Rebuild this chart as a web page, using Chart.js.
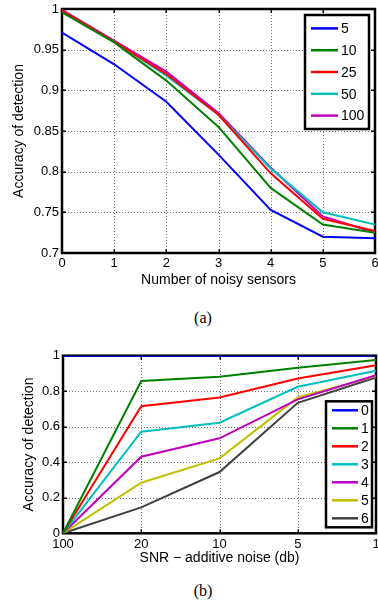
<!DOCTYPE html>
<html>
<head>
<meta charset="utf-8">
<script src="https://cdn.jsdelivr.net/npm/chart.js@4"></script>
<style>
  body { margin: 0; background: #fff; width: 378px; height: 603px; position: relative; overflow: hidden; }
  .box { position: absolute; left: 0; width: 378px; }
  .cap { position: absolute; width: 378px; left: 14px; text-align: center; font-family: "Liberation Serif", serif; font-size: 16px; color: #000; }
</style>
</head>
<body>
<div class="box" style="top:0;height:290px"><canvas id="chartA"></canvas></div>
<div class="cap" style="top:309px">(a)</div>
<div class="box" style="top:340px;height:230px"><canvas id="chartB"></canvas></div>
<div class="cap" style="top:582px">(b)</div>
<script>
// ---- chart (a) data ----
const noisySensors = [0, 1, 2, 3, 4, 5, 6];
const sensorCounts = ['5', '10', '25', '50', '100'];
const acc5   = [0.971, 0.932, 0.886, 0.821, 0.753, 0.720, 0.718];
const acc10  = [0.996, 0.959, 0.912, 0.855, 0.780, 0.735, 0.725];
const acc25  = [0.998, 0.960, 0.920, 0.870, 0.798, 0.742, 0.727];
const acc50  = [0.998, 0.960, 0.918, 0.870, 0.804, 0.750, 0.735];
const acc100 = [0.999, 0.961, 0.923, 0.872, 0.805, 0.745, 0.725];
const yTicksA = [0.7, 0.75, 0.8, 0.85, 0.9, 0.95, 1];

// ---- chart (b) data ----
const snrLabels = ['100', '20', '10', '5', '1'];
const noisyLabels = ['0', '1', '2', '3', '4', '5', '6'];
const snr0 = [1, 1, 1, 1, 1];
const snr1 = [0, 0.858, 0.882, 0.932, 0.976];
const snr2 = [0, 0.716, 0.765, 0.872, 0.946];
const snr3 = [0, 0.572, 0.623, 0.825, 0.915];
const snr4 = [0, 0.431, 0.535, 0.754, 0.890];
const snr5 = [0, 0.285, 0.422, 0.765, 0.885];
const snr6 = [0, 0.146, 0.345, 0.735, 0.877];

const colorsA = ['#0000ff', '#008000', '#ff0000', '#00bfbf', '#bf00bf'];
const colorsB = ['#0000ff', '#008000', '#ff0000', '#00bfbf', '#bf00bf', '#bfbf00', '#404040'];

const TICKFONT = { family: '"Liberation Sans", Arial, sans-serif', size: 13 };
const TITLEFONT = { family: '"Liberation Sans", Arial, sans-serif', size: 14 };

// dotted grid (as small squares), box around the plot + inward ticks (matlab style)
const boxPlugin = {
  id: 'matBox',
  beforeDatasetsDraw(chart) {
    const { ctx, chartArea: a, scales } = chart;
    ctx.save();
    ctx.fillStyle = '#6e6e6e';
    scales.x.ticks.forEach((t, i) => {
      const px = Math.round(scales.x.getPixelForTick(i));
      for (let y = a.top; y < a.bottom; y += 3) ctx.fillRect(px, Math.round(y), 1, 1);
    });
    scales.y.ticks.forEach((t, i) => {
      const py = Math.round(scales.y.getPixelForTick(i));
      for (let x = a.left; x < a.right; x += 3) ctx.fillRect(Math.round(x), py, 1, 1);
    });
    ctx.fillStyle = '#000';
    scales.x.ticks.forEach((t, i) => {
      const px = Math.round(scales.x.getPixelForTick(i));
      ctx.fillRect(px - 0.5, a.bottom - 4, 1.5, 4);
      ctx.fillRect(px - 0.5, a.top, 1.5, 4);
    });
    scales.y.ticks.forEach((t, i) => {
      const py = Math.round(scales.y.getPixelForTick(i));
      ctx.fillRect(a.left, py - 0.5, 4, 1.5);
      ctx.fillRect(a.right - 4, py - 0.5, 4, 1.5);
    });
    ctx.strokeStyle = '#000';
    ctx.lineWidth = 2.5;
    ctx.strokeRect(a.left, a.top, a.right - a.left, a.bottom - a.top);
    ctx.restore();
  }
};

// legend drawn inside the axes
const inLegend = {
  id: 'inLegend',
  afterDatasetsDraw(chart, args, opts) {
    const { ctx, chartArea: a } = chart;
    const ds = chart.data.datasets;
    const w = opts.width, h = opts.rowH * ds.length + opts.padY * 2;
    const x = a.right - opts.right - w;
    const y = opts.bottom != null ? a.bottom - opts.bottom - h : a.top + opts.top;
    ctx.save();
    ctx.fillStyle = '#fff';
    ctx.fillRect(x, y, w, h);
    ctx.lineWidth = 2.5;
    ctx.strokeStyle = '#000';
    ctx.strokeRect(x, y, w, h);
    ctx.font = '14px "Liberation Sans", Arial, sans-serif';
    ctx.textBaseline = 'middle';
    ds.forEach((d, i) => {
      const cy = y + opts.padY + opts.rowH * (i + 0.5);
      ctx.strokeStyle = d.borderColor;
      ctx.lineWidth = 2.5;
      ctx.beginPath();
      ctx.moveTo(x + 6, cy); ctx.lineTo(x + 6 + opts.lineLen, cy);
      ctx.stroke();
      ctx.fillStyle = '#000';
      ctx.fillText(d.label, x + 9 + opts.lineLen, cy + 1);
    });
    ctx.restore();
  }
};

function makeSets(labels, series, colors, xs) {
  return series.map((s, i) => ({
    label: labels[i],
    data: xs ? s.map((v, j) => ({ x: xs[j], y: v })) : s,
    borderColor: colors[i], backgroundColor: colors[i],
    borderWidth: 2, pointRadius: 0, tension: 0, fill: false
  }));
}

const fmt = v => String(Number(v.toFixed(2)));

function axisOpts(title, titlePad, extra) {
  return Object.assign({
    title: { display: true, text: title, font: TITLEFONT, color: '#000', padding: titlePad },
    ticks: { font: TICKFONT, color: '#000', padding: 3, maxRotation: 0, autoSkip: false, callback: fmt },
    grid: { display: false, drawTicks: false },
    border: { display: false }
  }, extra);
}

function fixY(w) {
  return s => { s.width = w; s.paddingTop = 0; s.paddingBottom = 0; };
}
function fixX(h) {
  return s => { s.height = h; s.paddingLeft = 0; s.paddingRight = 0; };
}

Chart.defaults.animation = false;

new Chart(document.getElementById('chartA'), {
  type: 'line',
  data: {
    datasets: makeSets(sensorCounts, [acc5, acc10, acc25, acc50, acc100], colorsA, noisySensors)
  },
  options: {
    responsive: true, maintainAspectRatio: false,
    layout: { padding: { top: 9, right: 3, left: 0, bottom: 0 } },
    plugins: {
      legend: { display: false }, tooltip: { enabled: false },
      inLegend: { width: 64, rowH: 21.8, padY: 2.5, right: 6, top: 6, lineLen: 27 }
    },
    scales: {
      x: axisOpts('Number of noisy sensors', { top: 0, bottom: 1 }, {
        type: 'linear', min: 0, max: 6,
        afterBuildTicks: s => { s.ticks = noisySensors.map(v => ({ value: v })); },
        afterFit: fixX(37)
      }),
      y: axisOpts('Accuracy of detection', { top: 11, bottom: 0 }, {
        min: 0.7, max: 1,
        afterBuildTicks: s => { s.ticks = yTicksA.map(v => ({ value: v })); },
        afterFit: fixY(62)
      })
    }
  },
  plugins: [boxPlugin, inLegend]
});

new Chart(document.getElementById('chartB'), {
  type: 'line',
  data: {
    labels: snrLabels,
    datasets: makeSets(noisyLabels, [snr0, snr1, snr2, snr3, snr4, snr5, snr6], colorsB)
  },
  options: {
    responsive: true, maintainAspectRatio: false,
    layout: { padding: { top: 15.7, right: 2, left: 0, bottom: 0 } },
    plugins: {
      legend: { display: false }, tooltip: { enabled: false },
      inLegend: { width: 46, rowH: 18, padY: 0, right: 4, bottom: 6, lineLen: 26 }
    },
    scales: {
      x: axisOpts('SNR \u2212 additive noise (db)', { top: 0, bottom: 3 }, {
        type: 'category', offset: false,
        ticks: { font: TICKFONT, color: '#000', padding: 3, maxRotation: 0, autoSkip: false },
        afterFit: fixX(36.7)
      }),
      y: axisOpts('Accuracy of detection', { top: 21, bottom: 0 }, {
        min: 0, max: 1,
        ticks: { font: TICKFONT, color: '#000', padding: 3, stepSize: 0.2, callback: fmt },
        afterFit: fixY(63)
      })
    }
  },
  plugins: [boxPlugin, inLegend]
});
</script>
</body>
</html>
